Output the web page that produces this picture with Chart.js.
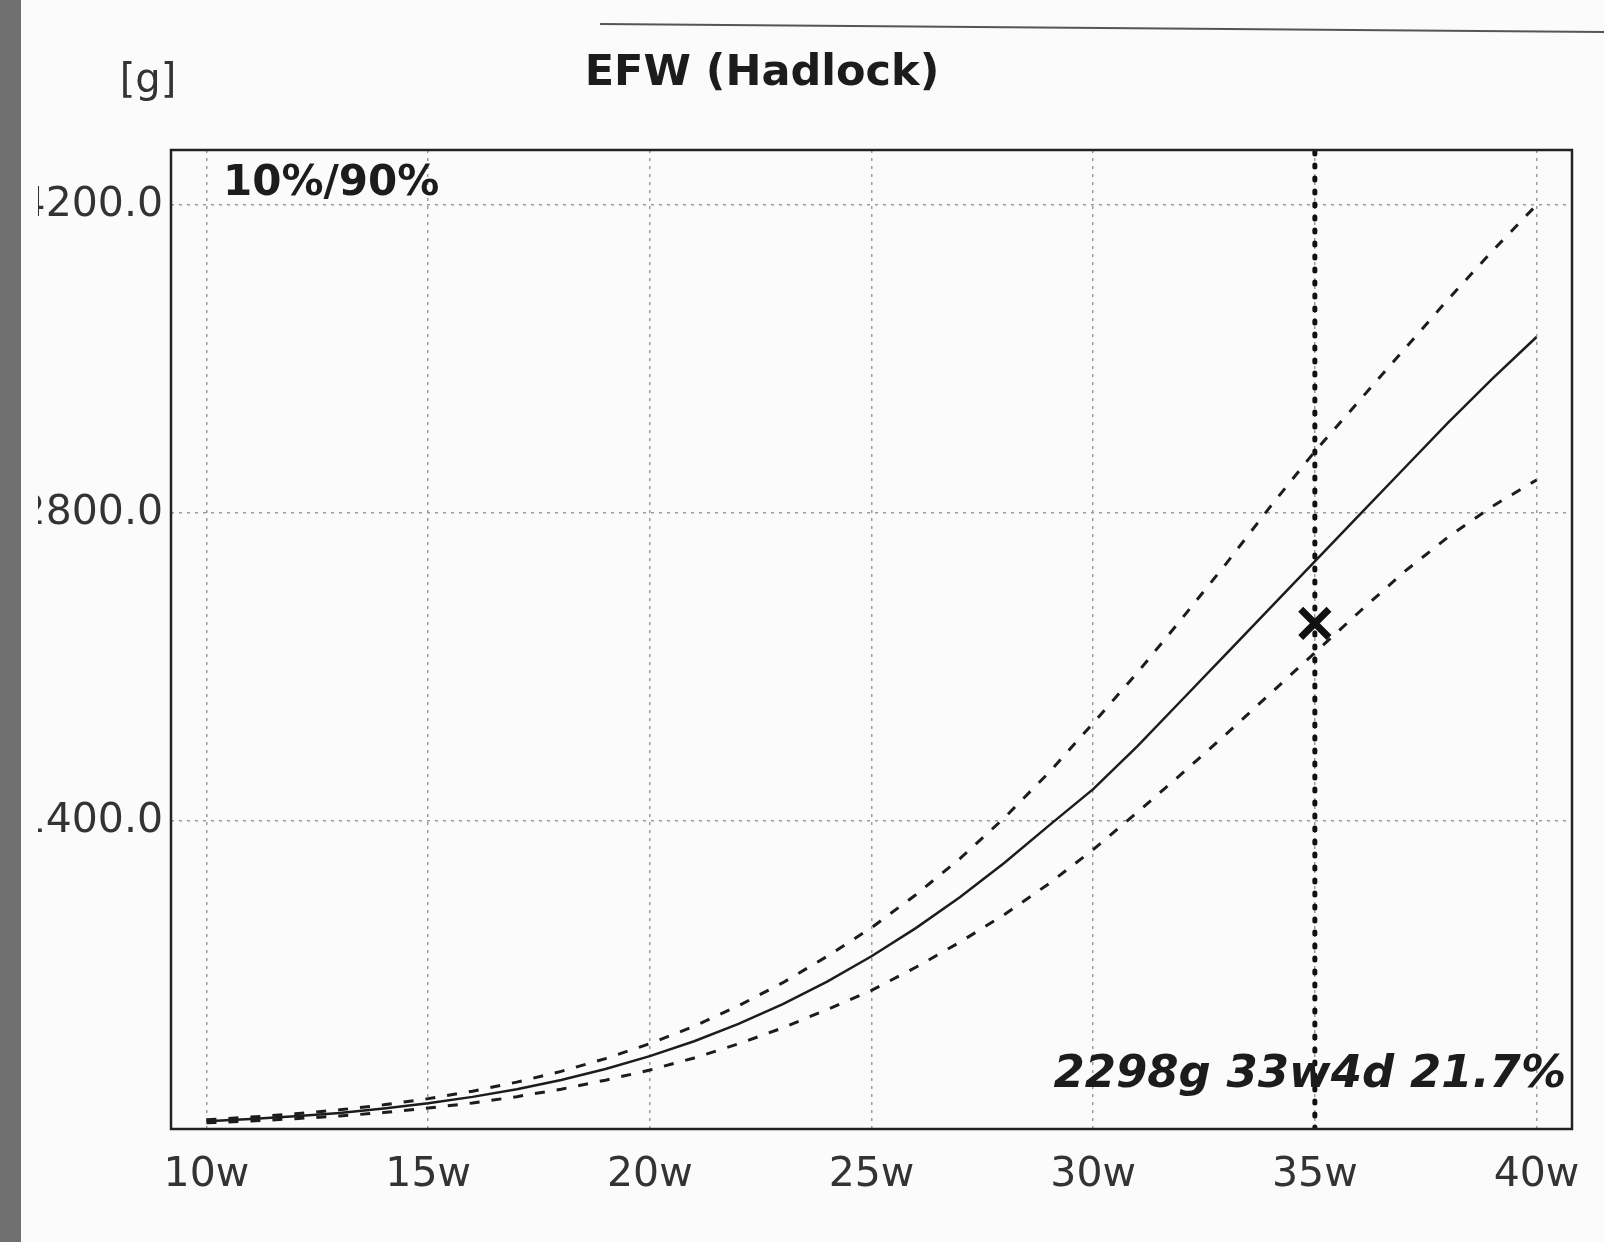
<!DOCTYPE html>
<html>
<head>
<meta charset="utf-8">
<script src="https://cdn.jsdelivr.net/npm/chart.js@4.4.1/dist/chart.umd.min.js"></script>
<style>
  html, body { margin: 0; padding: 0; background: #fbfbfb; }
  #c { display: block; }
</style>
</head>
<body>
<canvas id="c" width="1604" height="1242"></canvas>
<script>
// ---- data ----
const weeks = [10,11,12,13,14,15,16,17,18,19,20,21,22,23,24,25,26,27,28,29,30,31,32,33,34,35,36,37,38,39,40];
const p50 = [35,45,58,73,93,117,146,181,223,273,331,399,478,568,670,785,913,1055,1210,1379,1545,1740,1950,2160,2370,2580,2790,3000,3210,3410,3600];
const p90 = [42,54,69,87,110,138,172,213,262,320,388,467,560,665,785,915,1065,1230,1415,1620,1845,2075,2320,2570,2830,3080,3310,3540,3770,3990,4200];
const p10 = [28,36,47,59,75,95,118,147,181,222,268,323,387,460,543,630,735,850,975,1115,1270,1440,1615,1795,1980,2165,2350,2530,2690,2830,2950];
const xTicks = [10,15,20,25,30,35,40];
const yTicks = [0,1400,2800,4200];
const measuredWeek = 35;
const measuredWeight = 2298;
const measuredLabel = '2298g 33w4d 21.7%';
const chartTitle = 'EFW (Hadlock)';
const unitLabel = '[g]';
const bandLabel = '10%/90%';
const xRange = [9.2, 40.8];
const yRange = [0, 4450];

const toPts = arr => weeks.map((w, i) => ({x: w, y: arr[i]}));
const ink = '#1c1c1c';
const FONT = '"DejaVu Sans", sans-serif';

const decor = {
  id: 'decor',
  beforeDraw(chart) {
    const ctx = chart.ctx;
    ctx.save();
    ctx.fillStyle = '#fbfbfb';
    ctx.fillRect(0, 0, chart.width, chart.height);
    ctx.restore();
  },
  afterDraw(chart) {
    const ctx = chart.ctx;
    const a = chart.chartArea;
    ctx.save();
    // frame
    ctx.strokeStyle = '#222';
    ctx.lineWidth = 2.5;
    ctx.strokeRect(a.left, a.top, a.right - a.left, a.bottom - a.top);
    // title
    ctx.fillStyle = ink;
    ctx.textAlign = 'center';
    ctx.textBaseline = 'middle';
    ctx.font = 'bold 43px ' + FONT;
    ctx.fillText(chartTitle, 762, 74);
    // unit
    ctx.font = '40px ' + FONT;
    ctx.fillStyle = '#333';
    ctx.fillText(unitLabel, 148, 82);
    // band label
    ctx.fillStyle = ink;
    ctx.textAlign = 'left';
    ctx.font = 'bold 42px ' + FONT;
    ctx.fillText(bandLabel, a.left + 52, a.top + 34);
    // measurement label
    ctx.textAlign = 'right';
    ctx.textBaseline = 'alphabetic';
    ctx.font = 'italic bold 45px ' + FONT;
    ctx.fillText(measuredLabel, a.right - 6, a.bottom - 42);
    // paper edge at top
    ctx.strokeStyle = '#555';
    ctx.lineWidth = 2;
    ctx.beginPath();
    ctx.moveTo(600, 24);
    ctx.lineTo(1604, 32);
    ctx.stroke();
    // printer margin / photo edge at left
    ctx.fillStyle = '#fbfbfb';
    ctx.fillRect(21, 0, 17, chart.height);
    ctx.fillStyle = '#707070';
    ctx.fillRect(0, 0, 21, chart.height);
    ctx.restore();
  }
};

new Chart(document.getElementById('c'), {
  type: 'line',
  data: {
    datasets: [
      { label: '50%', data: toPts(p50), borderColor: ink, borderWidth: 2.5, pointRadius: 0, tension: 0, fill: false },
      { label: '90%', data: toPts(p90), borderColor: ink, borderWidth: 3, borderDash: [10, 12], pointRadius: 0, tension: 0, fill: false },
      { label: '10%', data: toPts(p10), borderColor: ink, borderWidth: 3, borderDash: [10, 12], pointRadius: 0, tension: 0, fill: false },
      { label: 'GA line', data: [{x: measuredWeek, y: yRange[0]}, {x: measuredWeek, y: yRange[1]}], borderColor: '#111', borderWidth: 5, borderDash: [2, 11], borderCapStyle: 'round', pointRadius: 0, fill: false },
      { label: 'EFW', data: [{x: measuredWeek, y: measuredWeight}], showLine: false, pointStyle: 'crossRot', pointRadius: 20, pointBorderWidth: 7, pointBorderColor: '#111', pointBackgroundColor: '#111' }
    ]
  },
  options: {
    responsive: false,
    animation: false,
    layout: { padding: { top: 150, right: 32, bottom: 0, left: 0 } },
    plugins: { legend: { display: false }, tooltip: { enabled: false }, title: { display: false } },
    scales: {
      x: {
        type: 'linear',
        min: xRange[0], max: xRange[1],
        afterBuildTicks: s => { s.ticks = xTicks.map(v => ({value: v})); },
        afterFit: s => { s.height = 113; },
        ticks: { callback: v => v + 'w', font: { family: FONT, size: 41 }, color: '#333', padding: 22, maxRotation: 0, autoSkip: false },
        grid: { color: '#9c9c9c', lineWidth: 1.5, drawTicks: false },
        border: { display: false, dash: [3, 5] }
      },
      y: {
        min: yRange[0], max: yRange[1],
        afterBuildTicks: s => { s.ticks = yTicks.map(v => ({value: v})); },
        afterFit: s => { s.width = 171; },
        ticks: { callback: v => v === 0 ? '' : v.toFixed(1), font: { family: FONT, size: 41 }, color: '#333', padding: 8 },
        grid: { color: '#9c9c9c', lineWidth: 1.5, drawTicks: false },
        border: { display: false, dash: [3, 5] }
      }
    }
  },
  plugins: [decor]
});
</script>
</body>
</html>
